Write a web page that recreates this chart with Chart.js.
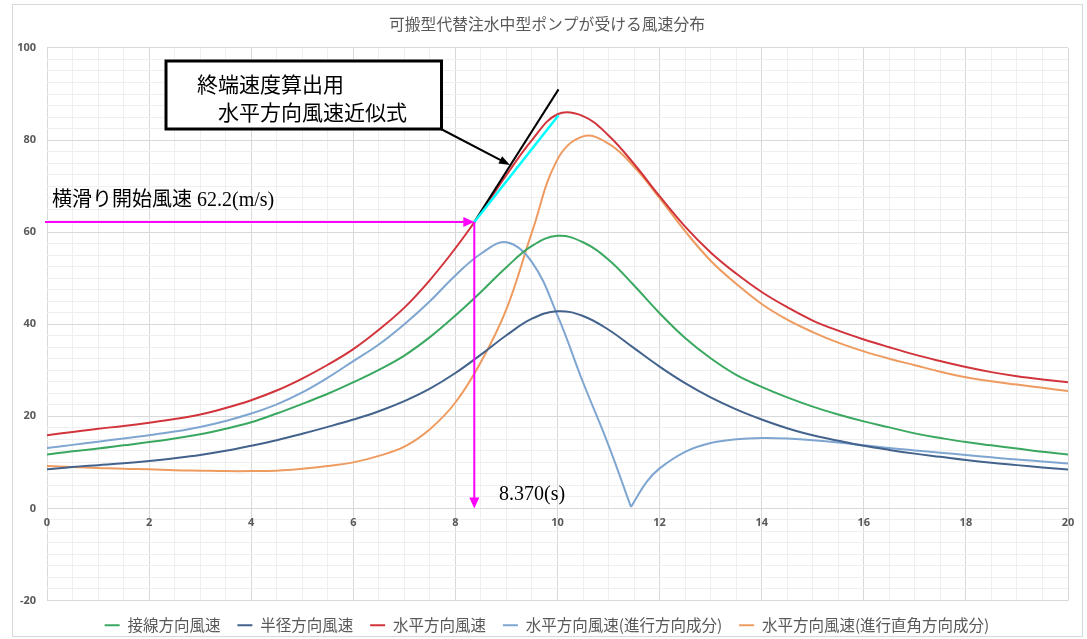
<!DOCTYPE html>
<html>
<head>
<meta charset="utf-8">
<script src="https://cdn.jsdelivr.net/npm/chart.js@4.4.0/dist/chart.umd.min.js"></script>
<style>
  html, body { margin: 0; padding: 0; background: #ffffff; }
  #wrap { position: relative; width: 1087px; height: 639px; }
  canvas { display: block; }
</style>
</head>
<body>
<div id="wrap"><canvas id="chart" width="1087" height="639"></canvas></div>
<script>
// Elapsed time (s)
const seconds = [0, 0.5, 1, 1.5, 2, 2.5, 3, 3.5, 4, 4.5, 5, 5.5, 6, 6.5, 7, 7.5, 8, 8.5, 9, 9.5,
  10, 10.5, 11, 11.5, 12, 12.5, 13, 13.5, 14, 14.5, 15, 15.5, 16, 16.5, 17, 17.5, 18, 18.5, 19, 19.5, 20];

// 接線方向風速 (m/s)
const tangential = [11.7, 12.4, 13.0, 13.7, 14.4, 15.2, 16.1, 17.3, 18.7, 20.6, 22.7, 24.9, 27.4, 30.1, 33.2, 37.2, 41.9, 47.0, 52.4, 57.0,
  59.2, 57.8, 54.0, 48.4, 42.4, 37.0, 32.6, 29.0, 26.4, 24.1, 22.1, 20.4, 18.9, 17.6, 16.3, 15.3, 14.4, 13.7, 13.0, 12.3, 11.7];

// 半径方向風速 (m/s)
const radial = [8.5, 9.0, 9.4, 9.8, 10.3, 10.9, 11.6, 12.5, 13.6, 14.8, 16.2, 17.7, 19.3, 21.1, 23.3, 26.0, 29.4, 33.4, 37.6, 41.2,
  42.8, 41.8, 38.8, 34.8, 30.8, 27.2, 24.1, 21.5, 19.3, 17.4, 15.9, 14.7, 13.6, 12.7, 11.9, 11.2, 10.5, 9.9, 9.4, 8.9, 8.45];

// 水平方向風速 (m/s)
const horizontal = [15.9, 16.6, 17.3, 17.9, 18.6, 19.4, 20.4, 21.8, 23.5, 25.6, 28.2, 31.2, 34.6, 38.8, 43.6, 49.6, 56.5, 64.2, 72.4, 80.0,
  85.6, 85.2, 81.0, 74.8, 67.8, 61.2, 55.6, 51.0, 47.0, 43.7, 40.8, 38.6, 36.7, 35.0, 33.4, 32.0, 30.7, 29.6, 28.7, 28.0, 27.4];

// 水平方向風速(進行方向成分): its own time base, with the sign change near 11.44 s
const alongSeconds = [0, 0.5, 1, 1.5, 2, 2.5, 3, 3.5, 4, 4.5, 5, 5.5, 6, 6.5, 7, 7.5, 8, 8.5, 9, 9.5,
  10, 10.5, 11, 11.44, 11.75, 12, 12.5, 13, 13.5, 14, 14.5, 15, 15.5, 16, 16.5, 17, 17.5, 18, 18.5, 19, 19.5, 20];
const alongTrack = [13.1, 13.8, 14.5, 15.2, 15.9, 16.7, 17.7, 19.0, 20.6, 22.6, 25.2, 28.4, 32.0, 35.6, 40.0, 45.0, 50.6, 55.3, 57.8, 53.5,
  41.9, 27.4, 13.7, 0.3, 5.8, 8.7, 12.3, 14.2, 15.0, 15.3, 15.2, 14.8, 14.3, 13.7, 13.1, 12.6, 12.1, 11.6, 11.1, 10.6, 10.2, 9.75];

// 水平方向風速(進行直角方向成分) (m/s)
const crossTrack = [9.2, 9.0, 8.8, 8.6, 8.5, 8.3, 8.2, 8.1, 8.1, 8.2, 8.6, 9.2, 10.0, 11.4, 13.4, 17.2, 23.0, 31.8, 43.3, 60.0,
  75.8, 80.8, 79.2, 74.2, 67.4, 60.2, 53.8, 48.8, 44.4, 41.0, 38.3, 36.0, 34.1, 32.5, 31.1, 29.7, 28.5, 27.6, 26.9, 26.2, 25.5];

// Labelled tick values
const xTickLabels = [0, 2, 4, 6, 8, 10, 12, 14, 16, 18, 20];
const yTickLabels = [-20, 0, 20, 40, 60, 80, 100];

// Side-slip onset and the straight-line fit used for the terminal speed
const slipTime = 8.370;
const slipSpeed = 62.2;
const tangentEnd = [10.02, 91.0];
const fitLineEnd = [10.02, 85.4];

const seriesNames = ['接線方向風速', '半径方向風速', '水平方向風速', '水平方向風速(進行方向成分)', '水平方向風速(進行直角方向成分)'];
const seriesColors = ['#3aa860', '#43628c', '#d2343c', '#7fa6d1', '#ee9b60'];

const toPoints = (xs, ys) => xs.map((t, i) => ({ x: t, y: ys[i] }));
const alongPts = toPoints(alongSeconds, alongTrack);
let turnIdx = 0;
alongTrack.forEach((v, i) => { if (v < alongTrack[turnIdx]) turnIdx = i; });

function lineSet(label, data, color, extra) {
  return Object.assign({
    label, data,
    borderColor: color,
    backgroundColor: color,
    borderWidth: 2,
    pointRadius: 0,
    pointHoverRadius: 0,
    tension: 0.4,
    fill: false
  }, extra || {});
}

const datasets = [
  lineSet(seriesNames[0], toPoints(seconds, tangential), seriesColors[0]),
  lineSet(seriesNames[1], toPoints(seconds, radial), seriesColors[1]),
  lineSet(seriesNames[2], toPoints(seconds, horizontal), seriesColors[2]),
  lineSet(seriesNames[3], alongPts.slice(0, turnIdx + 1), seriesColors[3]),
  lineSet(seriesNames[4], toPoints(seconds, crossTrack), seriesColors[4]),
  // continuation of the along-track component after the sign change
  lineSet(seriesNames[3], alongPts.slice(turnIdx), seriesColors[3], { hideInLegend: true })
];

const CJK = '"Noto Sans CJK JP"';
const SERIF = '"Liberation Serif", "Noto Sans CJK JP"';

function arrowHead(ctx, x, y, angle, len, half, color) {
  ctx.save();
  ctx.translate(x, y);
  ctx.rotate(angle);
  ctx.beginPath();
  ctx.moveTo(0, 0);
  ctx.lineTo(-len, -half);
  ctx.lineTo(-len, half);
  ctx.closePath();
  ctx.fillStyle = color;
  ctx.fill();
  ctx.restore();
}

function segment(ctx, x1, y1, x2, y2, color, width) {
  ctx.beginPath();
  ctx.moveTo(x1, y1);
  ctx.lineTo(x2, y2);
  ctx.strokeStyle = color;
  ctx.lineWidth = width;
  ctx.stroke();
}

// centre the title and legend on the whole frame rather than the padded box
const recentre = {
  id: 'recentre',
  afterLayout(chart) {
    const shift = 13;
    [chart.titleBlock, chart.legend].forEach(b => {
      if (b) { b.left += shift; b.right += shift; }
    });
  }
};

const overlay = {
  id: 'overlay',
  afterDatasetsDraw(chart) {
    const { ctx, scales: { x, y } } = chart;
    const px = x.getPixelForValue(slipTime);
    const py = y.getPixelForValue(slipSpeed);
    ctx.save();

    // tangent and fitted line from the slip point
    segment(ctx, px, py, x.getPixelForValue(tangentEnd[0]), y.getPixelForValue(tangentEnd[1]), '#000000', 2);
    segment(ctx, px, py, x.getPixelForValue(fitLineEnd[0]), y.getPixelForValue(fitLineEnd[1]), '#00ffff', 2.5);

    // magenta guides to the axes
    const magenta = '#ff00ff';
    segment(ctx, x.left - 2, py, px - 10, py, magenta, 2);
    arrowHead(ctx, px, py, 0, 11, 5, magenta);
    const y0 = y.getPixelForValue(0);
    segment(ctx, px, py, px, y0 - 10, magenta, 2);
    arrowHead(ctx, px, y0, Math.PI / 2, 11, 5, magenta);

    ctx.fillStyle = '#000000';
    ctx.textBaseline = 'middle';
    ctx.textAlign = 'left';
    ctx.font = '20px ' + SERIF;
    ctx.fillText('横滑り開始風速 ' + slipSpeed.toFixed(1) + '(m/s)', 52, 201);
    ctx.fillText(slipTime.toFixed(3) + '(s)', 499, 495);

    // callout box
    ctx.fillStyle = '#ffffff';
    ctx.fillRect(166, 61, 275.5, 68);
    ctx.strokeStyle = '#000000';
    ctx.lineWidth = 3;
    ctx.strokeRect(166, 61, 275.5, 68);
    ctx.fillStyle = '#000000';
    ctx.font = '21px ' + CJK;
    ctx.fillText('終端速度算出用', 197, 84);
    ctx.fillText('水平方向風速近似式', 218, 112);

    // callout pointer
    const ax1 = 441, ay1 = 129, ax2 = 510, ay2 = 165;
    segment(ctx, ax1, ay1, ax2 - 6, ay2 - 3.2, '#000000', 2);
    arrowHead(ctx, ax2, ay2, Math.atan2(ay2 - ay1, ax2 - ax1), 11, 4, '#000000');

    ctx.restore();
  },
  afterDraw(chart) {
    const { ctx } = chart;
    ctx.save();
    ctx.strokeStyle = '#d9d9d9';
    ctx.lineWidth = 1;
    ctx.strokeRect(12.5, 4.5, 1070, 632);
    ctx.restore();
  }
};

const tickFont = { family: '"Open Sans", "Liberation Sans", sans-serif', size: 11, weight: 'bold' };

new Chart(document.getElementById('chart'), {
  type: 'line',
  data: { datasets },
  plugins: [recentre, overlay],
  options: {
    responsive: false,
    animation: false,
    devicePixelRatio: 1,
    layout: { padding: { left: 0, right: 19, top: 0, bottom: -4 } },
    plugins: {
      title: {
        display: true,
        text: '可搬型代替注水中型ポンプが受ける風速分布',
        color: '#595959',
        font: { family: CJK, size: 15.8, weight: 'normal' },
        padding: { top: 15, bottom: 14 }
      },
      legend: {
        position: 'bottom',
        labels: {
          color: '#595959',
          font: { family: CJK, size: 15.5 },
          boxWidth: 15,
          boxHeight: 2,
          padding: 17,
          generateLabels(chart) {
            return Chart.defaults.plugins.legend.labels.generateLabels(chart)
              .filter(item => !chart.data.datasets[item.datasetIndex].hideInLegend)
              .map(item => Object.assign(item, { lineWidth: 0 }));
          }
        }
      },
      tooltip: { enabled: false }
    },
    scales: {
      x: {
        type: 'linear',
        position: { y: 0 },
        min: 0,
        max: 20,
        ticks: {
          stepSize: 0.5,
          autoSkip: false,
          maxRotation: 0,
          padding: 8,
          color: '#595959',
          font: tickFont,
          callback: v => (xTickLabels.includes(v) ? String(v) : '')
        },
        grid: {
          drawTicks: false,
          color: c => (xTickLabels.includes(c.tick.value) ? '#d9d9d9' : '#efefef'),
          lineWidth: 1
        },
        border: { display: true, color: '#d9d9d9' }
      },
      y: {
        type: 'linear',
        min: -20,
        max: 100,
        afterFit: s => { s.width = 47; },
        ticks: {
          stepSize: 2.5,
          autoSkip: false,
          padding: 11,
          color: '#595959',
          font: tickFont,
          callback: v => (yTickLabels.includes(v) ? String(v) : '')
        },
        grid: {
          drawTicks: false,
          color: c => (yTickLabels.includes(c.tick.value) ? '#d9d9d9' : '#efefef'),
          lineWidth: 1
        },
        border: { display: false }
      }
    }
  }
});
</script>
</body>
</html>
